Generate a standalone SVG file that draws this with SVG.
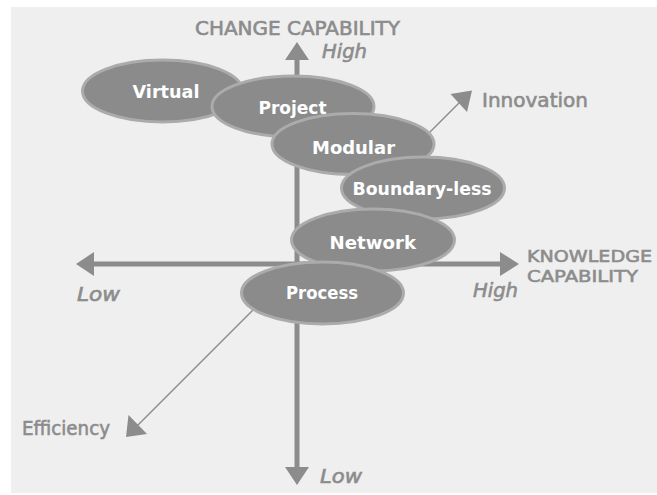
<svg xmlns="http://www.w3.org/2000/svg" width="657" height="495" viewBox="0 0 657 495">
  <style>
    .axis { stroke: #8c8c8c; stroke-width: 5; fill: none; }
    .diag { stroke: #8c8c8c; stroke-width: 1.4; fill: none; }
    .head { fill: #8c8c8c; }
    .node ellipse { fill: #8b8b8b; stroke: #ababab; stroke-width: 3; }
    .node text { font-family: "DejaVu Sans", "Open Sans", sans-serif; font-weight: bold; font-size: 18px; fill: #ffffff; }
    .lbl { font-family: "DejaVu Sans", "Open Sans", sans-serif; font-size: 19px; fill: #8c8c8c; stroke: #8c8c8c; stroke-width: 0.6; }
    .sm { font-size: 16.5px; }
    .it { font-style: italic; }
  </style>
  <rect x="11" y="7" width="646" height="486" fill="#efefef"/>

  <g id="connectors">
    <line class="axis" x1="297" y1="58" x2="297" y2="469"/>
    <line class="axis" x1="92" y1="264" x2="502" y2="264"/>
    <polygon class="head" points="297,42 285,60 309,60"/>
    <polygon class="head" points="297,485 285,467 309,467"/>
    <polygon class="head" points="76,264 94,252 94,276"/>
    <polygon class="head" points="519,264 500,252 500,276"/>
    <line class="diag" x1="400" y1="162" x2="462" y2="100"/>
    <polygon class="head" points="472,90.5 450.5,94 467,112"/>
    <line class="diag" x1="285" y1="278" x2="134" y2="429"/>
    <polygon class="head" points="126,437 128.5,415 147,434"/>
  </g>

  <g id="virtual" class="node">
    <ellipse cx="162.5" cy="91" rx="80" ry="31"/>
    <text x="132.5" y="97.5" textLength="67" lengthAdjust="spacingAndGlyphs">Virtual</text>
  </g>
  <g id="project" class="node">
    <ellipse cx="293" cy="106.5" rx="81" ry="30.5"/>
    <text x="258.5" y="113.5" textLength="68" lengthAdjust="spacingAndGlyphs">Project</text>
  </g>
  <g id="modular" class="node">
    <ellipse cx="353" cy="144" rx="81" ry="30.5"/>
    <text x="312" y="154" textLength="83" lengthAdjust="spacingAndGlyphs">Modular</text>
  </g>
  <g id="boundaryless" class="node">
    <ellipse cx="423" cy="188" rx="81.5" ry="31"/>
    <text x="352.5" y="195" textLength="139" lengthAdjust="spacingAndGlyphs">Boundary-less</text>
  </g>
  <g id="network" class="node">
    <ellipse cx="373" cy="240" rx="81.5" ry="31"/>
    <text x="329.5" y="248.5" textLength="86.5" lengthAdjust="spacingAndGlyphs">Network</text>
  </g>
  <g id="process" class="node">
    <ellipse cx="322.5" cy="293" rx="81" ry="31"/>
    <text x="286" y="299" textLength="72" lengthAdjust="spacingAndGlyphs">Process</text>
  </g>

  <g id="labels">
    <text class="lbl" x="195" y="35" textLength="205" lengthAdjust="spacingAndGlyphs">CHANGE CAPABILITY</text>
    <text class="lbl it" x="322" y="58" textLength="45" lengthAdjust="spacingAndGlyphs">High</text>
    <text class="lbl" x="482" y="107" textLength="106" lengthAdjust="spacingAndGlyphs">Innovation</text>
    <text class="lbl sm" x="527" y="262" textLength="125" lengthAdjust="spacingAndGlyphs">KNOWLEDGE</text>
    <text class="lbl sm" x="527" y="281.5" textLength="111" lengthAdjust="spacingAndGlyphs">CAPABILITY</text>
    <text class="lbl it" x="473" y="297" textLength="45" lengthAdjust="spacingAndGlyphs">High</text>
    <text class="lbl it" x="77" y="300.5" textLength="43" lengthAdjust="spacingAndGlyphs">Low</text>
    <text class="lbl" x="22" y="435" textLength="88" lengthAdjust="spacingAndGlyphs">Efficiency</text>
    <text class="lbl it" x="320" y="483" textLength="42" lengthAdjust="spacingAndGlyphs">Low</text>
  </g>
</svg>
